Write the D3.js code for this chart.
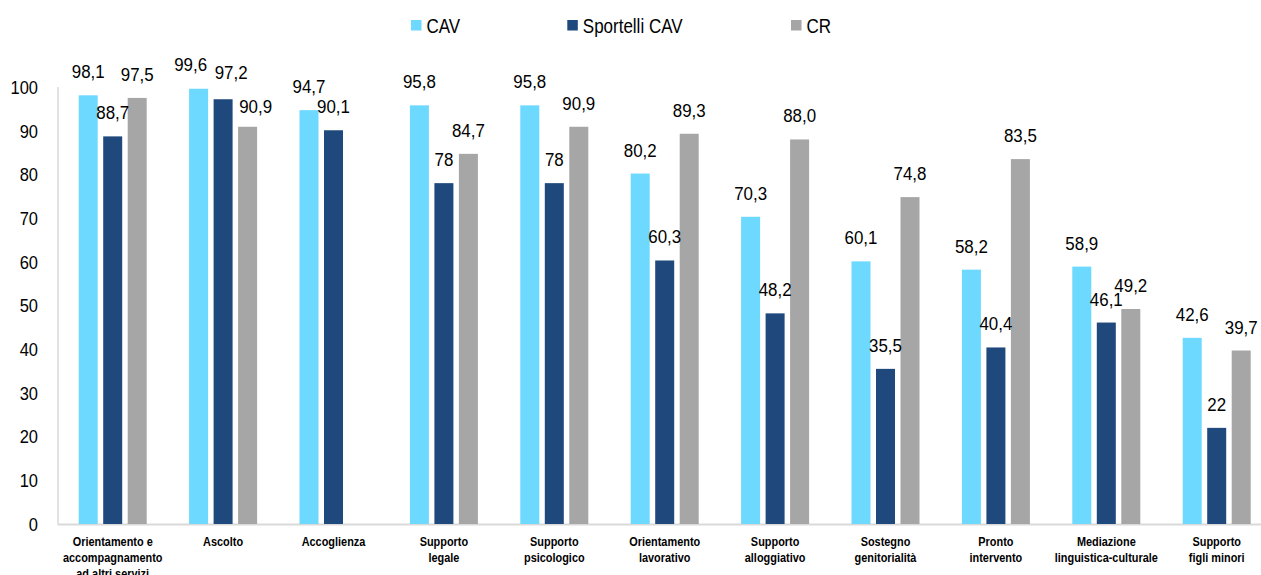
<!DOCTYPE html>
<html>
<head>
<meta charset="utf-8">
<script src="https://cdn.jsdelivr.net/npm/d3@7/dist/d3.min.js"></script>
<style>
  html, body { margin: 0; padding: 0; background: #fff; }
  svg { display: block; font-family: "Liberation Sans", Arial, sans-serif; }
</style>
</head>
<body>
<svg id="chart" width="1261" height="575"></svg>
<script>
// ---- Data ----
const categories = [
  "Orientamento e accompagnamento ad altri servizi",
  "Ascolto",
  "Accoglienza",
  "Supporto legale",
  "Supporto psicologico",
  "Orientamento lavorativo",
  "Supporto alloggiativo",
  "Sostegno genitorialità",
  "Pronto intervento",
  "Mediazione linguistica-culturale",
  "Supporto figli minori"
];
const categoryLines = [
  ["Orientamento e", "accompagnamento", "ad altri servizi"],
  ["Ascolto"],
  ["Accoglienza"],
  ["Supporto", "legale"],
  ["Supporto", "psicologico"],
  ["Orientamento", "lavorativo"],
  ["Supporto", "alloggiativo"],
  ["Sostegno", "genitorialità"],
  ["Pronto", "intervento"],
  ["Mediazione", "linguistica-culturale"],
  ["Supporto", "figli minori"]
];
const seriesNames = ["CAV", "Sportelli CAV", "CR"];
const cavValues       = [98.1, 99.6, 94.7, 95.8, 95.8, 80.2, 70.3, 60.1, 58.2, 58.9, 42.6];
const sportelliValues = [88.7, 97.2, 90.1, 78, 78, 60.3, 48.2, 35.5, 40.4, 46.1, 22];
const crValues        = [97.5, 90.9, null, 84.7, 90.9, 89.3, 88.0, 74.8, 83.5, 49.2, 39.7];
const cavLabels       = ["98,1", "99,6", "94,7", "95,8", "95,8", "80,2", "70,3", "60,1", "58,2", "58,9", "42,6"];
const sportelliLabels = ["88,7", "97,2", "90,1", "78", "78", "60,3", "48,2", "35,5", "40,4", "46,1", "22"];
const crLabels        = ["97,5", "90,9", "", "84,7", "90,9", "89,3", "88,0", "74,8", "83,5", "49,2", "39,7"];
const yTicks = [0, 10, 20, 30, 40, 50, 60, 70, 80, 90, 100];

// ---- Styles / layout ----
const colors = { "CAV": "#6DD9FF", "Sportelli CAV": "#1F497D", "CR": "#A6A6A6" };
const axisColor = "#D9D9D9";
const left = 57.5, step = 110.4;
const y0 = 524, y100 = 87;
// manual label nudges (Ascolto labels were moved in the original)
const labelNudge = { "1|CAV": [-8, -1], "1|Sportelli CAV": [8, -3], "1|CR": [8, 3.5] };

const svg = d3.select("#chart");

const x = d3.scaleBand().domain(categories)
  .range([left, left + step * categories.length]).padding(0);
const xSub = d3.scaleBand().domain(seriesNames)
  .range([-34, 34]).paddingInner(5.5 / 24.5).paddingOuter(0);
const y = d3.scaleLinear().domain([0, 100]).range([y0, y100]);

const seriesData = [
  { name: "CAV", values: cavValues, labels: cavLabels },
  { name: "Sportelli CAV", values: sportelliValues, labels: sportelliLabels },
  { name: "CR", values: crValues, labels: crLabels }
];

function sText(g, x0, y0_, txt, opts) {
  const t = g.append("text")
    .attr("transform", `translate(${x0},${y0_}) scale(${opts.sx},1)`)
    .attr("text-anchor", opts.anchor || "middle")
    .attr("font-size", opts.size)
    .attr("font-weight", opts.weight || "normal")
    .attr("fill", opts.fill || "#000")
    .text(txt);
  if (opts.baseline) t.attr("dominant-baseline", opts.baseline);
  return t;
}

// Axes lines
svg.append("line").attr("x1", left + 0.5).attr("x2", left + 0.5)
  .attr("y1", y(100)).attr("y2", y(0))
  .attr("stroke", axisColor).attr("stroke-width", 1.5);
svg.append("line").attr("x1", left).attr("x2", 1261)
  .attr("y1", y(0) + 0.5).attr("y2", y(0) + 0.5)
  .attr("stroke", axisColor).attr("stroke-width", 2);

// Y tick labels (via axis generator, no tick lines)
const yAxis = d3.axisLeft(y).tickValues(yTicks).tickSize(0).tickPadding(0);
const yg = svg.append("g").attr("transform", `translate(38,0)`).call(yAxis);
yg.select(".domain").remove();
yg.selectAll("text").each(function(d) {
  const el = d3.select(this);
  el.attr("x", null).attr("dy", null)
    .attr("transform", `translate(0,${0}) scale(0.89,1)`)
    .attr("font-size", 18.5).attr("fill", "#000")
    .attr("font-family", "'Liberation Sans', Arial, sans-serif")
    .attr("text-anchor", "end").attr("dominant-baseline", "central");
});

// Bars
const groups = svg.selectAll("g.cat").data(categories).enter().append("g")
  .attr("class", "cat")
  .attr("transform", d => `translate(${x(d) + x.bandwidth() / 2},0)`);

seriesData.forEach(s => {
  groups.each(function(c, i) {
    const v = s.values[i];
    if (v == null) return;
    d3.select(this).append("rect")
      .attr("x", xSub(s.name)).attr("width", xSub.bandwidth())
      .attr("y", y(v)).attr("height", y(0) - y(v))
      .attr("fill", colors[s.name]);
  });
});

// Value labels
seriesData.forEach(s => {
  groups.each(function(c, i) {
    const v = s.values[i];
    if (v == null || !s.labels[i]) return;
    const n = labelNudge[i + "|" + s.name] || [0, 0];
    sText(d3.select(this), xSub(s.name) + xSub.bandwidth() / 2 + n[0], y(v) - 17 + n[1],
      s.labels[i], { size: 19, sx: 0.89 });
  });
});

// Category labels
groups.each(function(c, i) {
  const g = d3.select(this);
  categoryLines[i].forEach((line, j) => {
    sText(g, 0, 546 + j * 16, line, { size: 13, sx: 0.84, weight: "bold" });
  });
});

// Legend
const legendX = [411, 567.3, 791];
const legend = svg.append("g");
seriesNames.forEach((name, i) => {
  legend.append("rect").attr("x", legendX[i]).attr("y", 20)
    .attr("width", 10.5).attr("height", 10.5).attr("fill", colors[name]);
  sText(legend, legendX[i] + 15.5, 33, name, { size: 20, sx: 0.85, anchor: "start" });
});
</script>
</body>
</html>
